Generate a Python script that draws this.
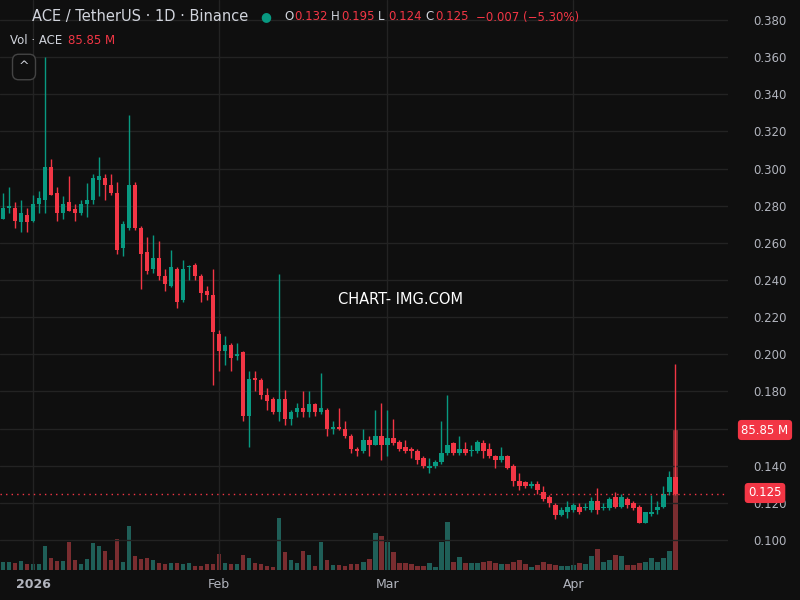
import numpy as np, pandas as pd, matplotlib
matplotlib.use("Agg")
import matplotlib.pyplot as plt, seaborn as sns

opens = [.273,.279,.279,.271,.275,.272,.281,.283,.301,.287,.276,.282,.278,.276,.281,.283,.294,.295,.291,.287,.257,.268,.291,.268,.255,.246,.252,.242,.237,.246,.229,.247,.248,.242,.234,.232,
 .211,.202,.205,.199,.201,.1665,.187,.186,.178,.176,.169,.176,.165,.169,.171,.169,.173,.169,.170,.160,.161,.160,.156,.149,.148,.154,.151,.156,.151,.155,.153,.150,.149,.148,.144,.139,.140,.142,.147,
 .152,.147,.149,.148,.148,.152,.149,.145,.143,.145,.140,.132,.131,.129,.130,.126,.123,.119,.1135,.115,.116,.118,.117,.116,.121,.117,.117,.123,.118,.122,.120,.118,.109,.114,.116,.118,.126,.134]
highs = [.287,.290,.282,.283,.279,.286,.288,.360,.305,.290,.285,.296,.281,.283,.292,.297,.306,.297,.297,.293,.272,.329,.293,.269,.263,.264,.261,.246,.256,.247,.251,.248,.249,.243,.237,.246,
 .213,.210,.206,.206,.202,.191,.191,.187,.182,.177,.243,.181,.170,.174,.180,.180,.174,.190,.171,.164,.171,.164,.157,.150,.160,.156,.170,.174,.170,.165,.154,.154,.150,.149,.145,.144,.143,.164,.178,
 .153,.156,.153,.151,.154,.154,.152,.146,.150,.146,.141,.136,.132,.132,.132,.129,.124,.120,.118,.121,.120,.120,.120,.123,.128,.120,.123,.126,.125,.123,.121,.119,.115,.124,.121,.129,.137,.195]
lows = [.273,.276,.268,.266,.266,.271,.276,.276,.286,.272,.273,.277,.272,.275,.274,.281,.285,.283,.286,.254,.253,.267,.267,.235,.243,.244,.240,.234,.236,.225,.228,.240,.240,.228,.229,.1835,
 .191,.194,.191,.197,.164,.150,.180,.176,.170,.168,.164,.162,.162,.166,.166,.166,.167,.168,.156,.157,.159,.155,.147,.145,.147,.145,.151,.143,.145,.151,.148,.147,.144,.141,.139,.136,.139,.141,.146,
 .146,.146,.146,.145,.147,.144,.144,.139,.142,.138,.129,.127,.128,.128,.125,.121,.118,.1115,.113,.112,.115,.114,.116,.115,.114,.116,.116,.117,.117,.117,.116,.109,.109,.113,.114,.117,.124,.124]
closes = [.279,.279,.272,.276,.271,.281,.284,.301,.286,.276,.281,.277,.276,.281,.283,.295,.296,.291,.287,.256,.270,.291,.268,.254,.245,.252,.242,.238,.247,.228,.246,.247,.242,.233,.232,.212,
 .202,.205,.198,.200,.1667,.1868,.186,.178,.175,.169,.176,.165,.169,.171,.169,.173,.169,.171,.160,.161,.160,.156,.149,.148,.154,.151,.156,.151,.155,.152,.149,.148,.148,.143,.140,.139,.142,.147,.151,
 .147,.149,.147,.148,.153,.148,.145,.143,.145,.139,.1315,.129,.129,.130,.127,.122,.120,.1135,.116,.118,.119,.115,.117,.121,.116,.117,.122,.118,.123,.119,.117,.109,.115,.115,.118,.125,.134,.125]
volumes = [4.9,4.9,4.1,5.3,3.5,3.5,3.5,14.7,7.1,5.5,5.5,16.9,5.9,3.5,6.5,16.3,14.7,11.4,5.9,18.8,4.7,26.7,8.4,6.7,7.1,5.9,4.1,3.7,4.1,4.1,3.5,4.1,2.2,2.2,3.5,3.5,
 9.8,4.1,3.5,3.5,9.0,7.1,4.1,3.5,2.2,1.6,31.6,10.8,5.9,4.1,11.4,9.0,2.2,16.9,5.9,2.9,2.9,2.2,3.5,3.5,4.7,6.5,22.4,20.6,16.9,10.8,4.1,4.1,3.5,2.2,2.2,4.1,1.6,16.9,29.2,
 4.7,7.8,4.1,4.1,4.1,4.7,5.3,4.1,3.5,3.5,4.7,5.9,3.5,1.6,2.9,4.7,3.5,2.9,2.2,2.2,2.9,4.1,3.5,8.4,12.6,4.7,5.9,9.0,8.4,2.9,2.9,4.1,4.7,7.1,4.7,7.1,11.4,85.85]
month_labels = ["2026", "Feb", "Mar", "Apr"]
month_idx = [5, 36, 64, 95]
price_ticks = [0.100,0.120,0.140,0.160,0.180,0.200,0.220,0.240,0.260,0.280,0.300,0.320,0.340,0.360,0.380]

BG = "#0f0f0f"; GREEN = "#089981"; RED = "#f23645"; TXT = "#d1d4dc"; GRID = "#232323"
sns.set_theme(style="dark", rc={"axes.facecolor": BG, "figure.facecolor": BG})
plt.rcParams['font.family'] = ['DejaVu Sans']

n = len(closes)
df = pd.DataFrame({"i": np.arange(n), "o": opens, "h": highs, "l": lows, "c": closes, "v": volumes})
df["dir"] = np.where(df.c >= df.o, "up", "down")

fig = plt.figure(figsize=(8, 6), dpi=100)
ax2 = fig.add_axes([0, 30/600, 728/800, 570/600])
ax = ax2.twinx()
ax2.set_zorder(0); ax.set_zorder(1); ax.patch.set_visible(False)

sns.barplot(data=df, x="i", y="v", hue="dir", hue_order=["up", "down"],
            palette={"up": "#1f5f58", "down": "#7a2d30"}, dodge=False, legend=False,
            width=0.8, ax=ax2, saturation=1, linewidth=0, edgecolor="none")
ax2.set_ylim(0, 85.85*570/140)
ax2.set_xlim(-0.5, 120.8)
ax2.set_ylabel(""); ax2.set_xlabel("")
ax2.set_yticks([])
ax2.set_xticks(month_idx)
ax2.set_xticklabels(month_labels)
for t in ax2.get_xticklabels():
    t.set_color("#b2b5be"); t.set_fontsize(9)
ax2.get_xticklabels()[0].set_fontweight("bold")
ax2.tick_params(axis="x", length=0, pad=6)
for s in ax2.spines.values(): s.set_visible(False)
ax2.grid(False)

cols = np.where(df.c >= df.o, GREEN, RED)
ax.vlines(df.i, df.l, df.h, colors=cols, linewidth=1)
ax.bar(df.i, (df.c - df.o).abs().clip(lower=0.0006), bottom=np.minimum(df.o, df.c), color=cols,
       width=0.8, linewidth=0, edgecolor="none")
ax.set_ylim(0.380 - 550/1857, 0.380 + 20/1857)
ax.set_xlim(-0.5, 120.8)
for p in price_ticks:
    ax.axhline(p, color=GRID, lw=1, zorder=0)
for m in month_idx:
    ax.axvline(m, color=GRID, lw=1, zorder=0)
ax.set_yticks(price_ticks)
ax.set_yticklabels(["" if abs(p - 0.160) < 1e-9 else f"{p:.3f}" for p in price_ticks])
ax.tick_params(axis="y", length=0, pad=18, colors="#b2b5be", labelsize=8.5)
ax.yaxis.tick_right()
for s in ax.spines.values(): s.set_visible(False)
ax.grid(False)
ax.axhline(0.125, color=RED, lw=1, ls=(0, (1, 3)))

def tag(y, s):
    fig.text(765/800, 1 - y/600, s, color="white", fontsize=8.5, ha="center", va="center",
             bbox=dict(boxstyle="round,pad=0.3", fc=RED, ec="none"))
tag(430, "85.85 M"); tag(493, "0.125")

fig.text(400/800, 1 - 299/600, "CHART- IMG.COM", color="white", fontsize=10.5, ha="center", va="center")
fig.text(32/800, 1 - 17/600, "ACE / TetherUS · 1D · Binance", color=TXT, fontsize=10.5, va="center")
fig.text(266/800, 1 - 17/600, "●", color=GREEN, fontsize=9, va="center", ha="center")
x = 284
for lab, val in [("O", "0.132"), ("H", "0.195"), ("L", "0.124"), ("C", "0.125")]:
    fig.text(x/800, 1 - 17/600, lab, color=TXT, fontsize=8.5, va="center")
    fig.text((x+10)/800, 1 - 17/600, val, color=RED, fontsize=8.5, va="center")
    x += 47
fig.text(476/800, 1 - 17/600, "−0.007 (−5.30%)", color=RED, fontsize=8.5, va="center")
fig.text(10/800, 1 - 41/600, "Vol · ACE", color=TXT, fontsize=8.5, va="center")
fig.text(68/800, 1 - 41/600, "85.85 M", color=RED, fontsize=8.5, va="center")
fig.text(24/800, 1 - 67/600, "^", color=TXT, fontsize=9, ha="center", va="center",
         bbox=dict(boxstyle="round,pad=0.5", fc=BG, ec="#444444"))
fig.savefig("out.png", dpi=100, facecolor=BG)
